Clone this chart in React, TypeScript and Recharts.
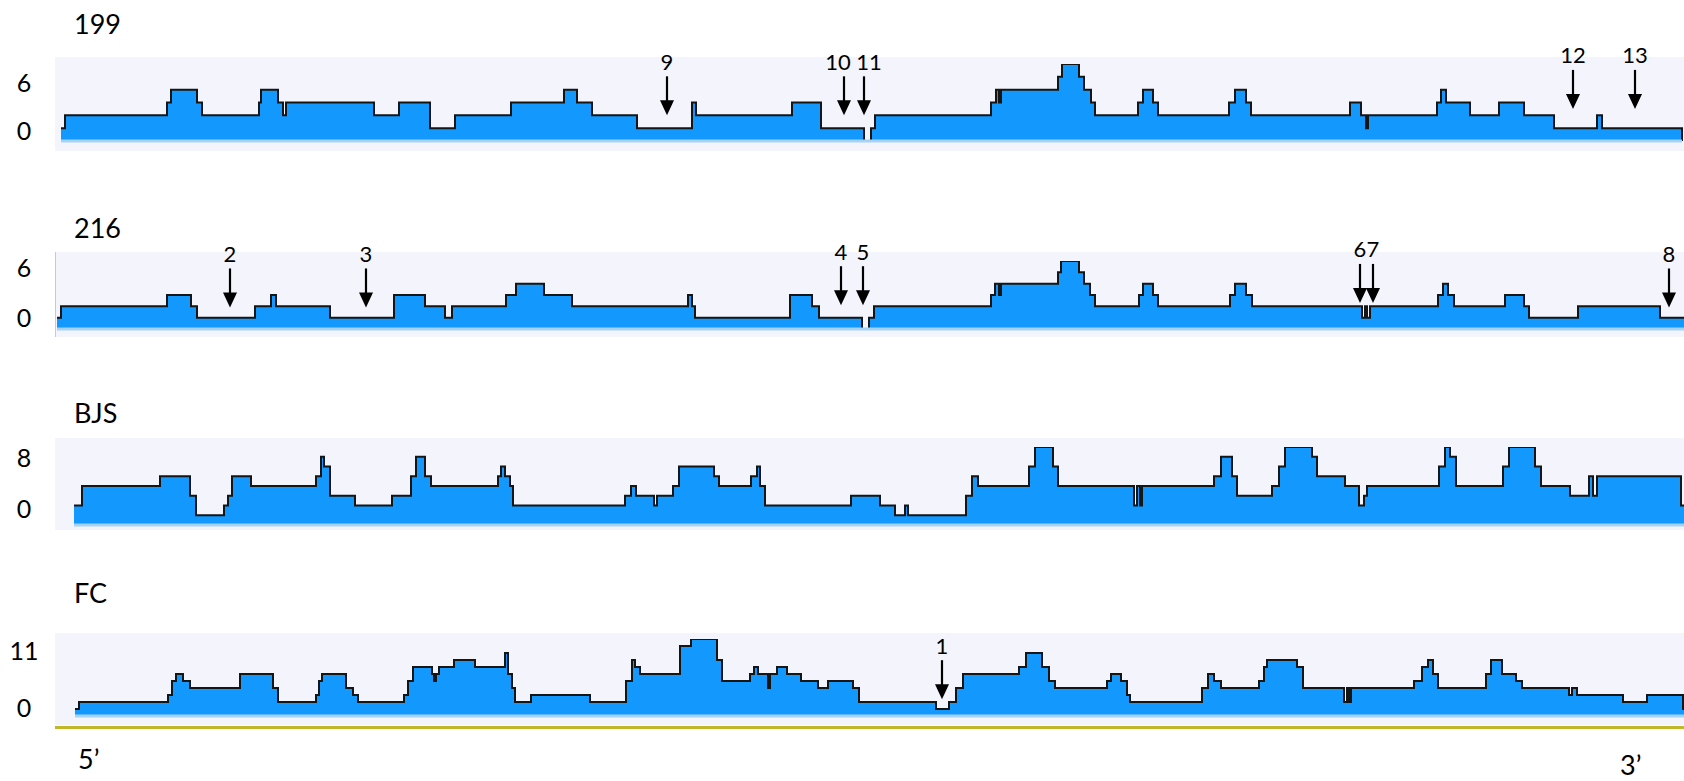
import React from 'react'
import { AreaChart, Area, XAxis, YAxis, ReferenceDot, ReferenceLine } from 'recharts'

type Step = [number, number]
type Mark = { label: string; pos: number; tip: number; dx?: number }

const POS_MAX = 1629

// coverage depth along the segment, as [position, depth] step starts
const DEPTH_199: Step[] = [
  [6, 1], [10, 2], [112, 3], [116, 4], [142, 3], [147, 2], [204, 3], [206, 4], [223, 3], [228, 2],
  [231, 3], [319, 2], [344, 3], [375, 1], [400, 2], [456, 3], [509, 4], [522, 3], [537, 2], [582, 1],
  [637, 3], [641, 2], [737, 3], [766, 1], [809, 0], [816, 1], [820, 2], [936, 3], [941, 4], [944, 3],
  [946, 4], [1003, 5], [1007, 6], [1024, 5], [1029, 4], [1036, 3], [1040, 2], [1083, 3], [1088, 4], [1098, 3],
  [1103, 2], [1174, 3], [1180, 4], [1191, 3], [1196, 2], [1295, 3], [1306, 2], [1311, 1], [1313, 2], [1382, 3],
  [1386, 4], [1391, 3], [1415, 2], [1444, 3], [1469, 2], [1499, 1], [1542, 2], [1547, 1], [1627, 0],
]

const DEPTH_216: Step[] = [
  [2, 1], [6, 2], [112, 3], [136, 2], [142, 1], [200, 2], [216, 3], [221, 2], [275, 1], [339, 3],
  [370, 2], [390, 1], [397, 2], [451, 3], [461, 4], [489, 3], [517, 2], [633, 3], [637, 2], [640, 1],
  [735, 3], [757, 2], [764, 1], [807, 0], [814, 1], [819, 2], [936, 3], [940, 4], [944, 3], [946, 4],
  [1003, 5], [1006, 6], [1024, 5], [1029, 4], [1035, 3], [1040, 2], [1084, 3], [1088, 4], [1098, 3], [1103, 2],
  [1175, 3], [1180, 4], [1191, 3], [1197, 2], [1307, 1], [1310, 2], [1312, 1], [1315, 2], [1383, 3], [1388, 4],
  [1393, 3], [1399, 2], [1450, 3], [1469, 2], [1474, 1], [1523, 2], [1605, 1], [1629, 1],
]

const DEPTH_BJS: Step[] = [
  [19, 2], [27, 4], [105, 5], [135, 3], [141, 1], [169, 2], [173, 3], [177, 5], [196, 4], [261, 5],
  [266, 7], [269, 6], [275, 3], [300, 2], [337, 3], [356, 5], [361, 7], [370, 5], [376, 4], [443, 5],
  [446, 6], [450, 5], [455, 4], [458, 2], [570, 3], [576, 4], [581, 3], [599, 2], [602, 3], [618, 4],
  [624, 6], [659, 5], [664, 4], [696, 5], [702, 6], [705, 4], [710, 2], [796, 3], [825, 2], [840, 1],
  [850, 2], [853, 1], [911, 3], [917, 5], [923, 4], [974, 6], [980, 8], [998, 6], [1003, 4], [1079, 2],
  [1082, 4], [1085, 2], [1087, 4], [1159, 5], [1166, 7], [1177, 5], [1182, 3], [1217, 4], [1224, 6], [1230, 8],
  [1257, 7], [1262, 5], [1290, 4], [1304, 2], [1309, 3], [1312, 4], [1384, 6], [1390, 8], [1395, 7], [1401, 4],
  [1448, 6], [1454, 8], [1480, 6], [1486, 4], [1515, 3], [1534, 5], [1538, 3], [1542, 5], [1626, 2], [1629, 2],
]

const DEPTH_FC: Step[] = [
  [20, 1], [24, 2], [113, 3], [117, 5], [121, 6], [128, 5], [135, 4], [185, 6], [218, 4], [223, 2],
  [261, 3], [264, 5], [267, 6], [291, 4], [298, 3], [303, 2], [349, 3], [353, 5], [358, 7], [377, 6],
  [379, 5], [381, 6], [384, 7], [399, 8], [420, 7], [450, 9], [453, 6], [457, 4], [460, 2], [476, 3],
  [535, 2], [571, 5], [577, 8], [580, 7], [585, 6], [625, 10], [636, 11], [662, 8], [667, 5], [695, 6],
  [699, 7], [703, 6], [713, 4], [715, 6], [722, 7], [732, 6], [746, 5], [763, 4], [773, 5], [798, 4],
  [804, 2], [881, 1], [894, 2], [901, 4], [908, 6], [964, 7], [971, 9], [987, 7], [994, 5], [1000, 4],
  [1052, 5], [1056, 6], [1066, 5], [1072, 3], [1075, 2], [1147, 4], [1153, 6], [1159, 5], [1166, 4], [1204, 5],
  [1209, 7], [1212, 8], [1242, 7], [1248, 4], [1289, 2], [1292, 4], [1294, 2], [1296, 4], [1359, 5], [1367, 7],
  [1373, 8], [1378, 6], [1383, 4], [1431, 6], [1436, 8], [1447, 6], [1461, 5], [1467, 4], [1514, 3], [1517, 4],
  [1522, 3], [1568, 2], [1592, 3], [1628, 1], [1629, 1],
]

// numbered sites, tip = depth the arrow points down to
const MARKS_199: Mark[] = [
  { label: '9', pos: 612, tip: 2 },
  { label: '10', pos: 789, tip: 2, dx: -6 },
  { label: '11', pos: 809, tip: 2, dx: 5 },
  { label: '12', pos: 1518, tip: 2.5 },
  { label: '13', pos: 1580, tip: 2.5 },
]
const MARKS_216: Mark[] = [
  { label: '2', pos: 175, tip: 1.9 },
  { label: '3', pos: 311, tip: 1.9 },
  { label: '4', pos: 786, tip: 2.1 },
  { label: '5', pos: 808, tip: 2.1 },
  { label: '6', pos: 1305, tip: 2.3 },
  { label: '7', pos: 1318, tip: 2.3 },
  { label: '8', pos: 1614, tip: 1.9 },
]
const MARKS_BJS: Mark[] = []
const MARKS_FC: Mark[] = [{ label: '1', pos: 887, tip: 2.4 }]

const FONT = 'Lato, "Open Sans", sans-serif'
const FILL = '#1399fe'
const PANEL_BG = '#f4f4fc'
const LEFT = 55

const PANELS = [
  { name: '199', steps: DEPTH_199, marks: MARKS_199, max: 6, bgTop: 57, bgBottom: 151, plotTop: 64, baseline: 141, titleY: 23, ticks: [['6', 82], ['0', 130]], axisLine: false },
  { name: '216', steps: DEPTH_216, marks: MARKS_216, max: 6, bgTop: 252, bgBottom: 337, plotTop: 261, baseline: 329, titleY: 227, ticks: [['6', 267], ['0', 317]], axisLine: true },
  { name: 'BJS', steps: DEPTH_BJS, marks: MARKS_BJS, max: 8, bgTop: 438, bgBottom: 530, plotTop: 447, baseline: 525, titleY: 412, ticks: [['8', 457], ['0', 508]], axisLine: false },
  { name: 'FC', steps: DEPTH_FC, marks: MARKS_FC, max: 11, bgTop: 633, bgBottom: 725, plotTop: 639, baseline: 716, titleY: 592, ticks: [['11', 650], ['0', 707]], axisLine: false },
]

const arrowShape = (m: Mark) => (p: any) => {
  const { cx, cy } = p
  return (
    <g>
      <text x={cx + (m.dx ?? 0)} y={cy - 54} textAnchor="middle" dominantBaseline="central" fontSize={22} fontFamily={FONT} fill="#000">
        {m.label}
      </text>
      <line x1={cx} y1={cy - 39} x2={cx} y2={cy - 13} stroke="#000" strokeWidth={2.2} />
      <polygon points={`${cx - 7},${cy - 15} ${cx + 7},${cy - 15} ${cx},${cy}`} fill="#000" />
    </g>
  )
}

const Label = ({ text, x, y, size, align = 'left' }: { text: string; x: number; y: number; size: number; align?: 'left' | 'center' }) => (
  <div
    style={{
      position: 'absolute',
      left: align === 'center' ? x - 30 : x,
      width: align === 'center' ? 60 : undefined,
      textAlign: align,
      top: y,
      transform: 'translateY(-50%)',
      fontSize: size,
      lineHeight: 1,
      fontFamily: FONT,
      color: '#000',
      whiteSpace: 'nowrap',
    }}
  >
    {text}
  </div>
)

const Panel = ({ cfg }: { cfg: (typeof PANELS)[number] }) => {
  const svgTop = cfg.bgTop - 22
  const height = cfg.bgBottom - svgTop
  const data = cfg.steps.map(([pos, depth]) => ({ pos, depth }))
  const first = cfg.steps[0][0]
  const last = cfg.steps[cfg.steps.length - 1][0]
  return (
    <>
      <Label text={cfg.name} x={74} y={cfg.titleY} size={27} />
      {cfg.ticks.map(([t, y]) => (
        <Label key={t as string} text={t as string} x={24} y={y as number} size={25} align="center" />
      ))}
      <div
        style={{
          position: 'absolute',
          left: LEFT,
          top: cfg.bgTop,
          width: 1684 - LEFT,
          height: cfg.bgBottom - cfg.bgTop,
          background: PANEL_BG,
          borderLeft: cfg.axisLine ? '1px solid #c9c9cf' : 'none',
          boxSizing: 'border-box',
        }}
      />
      <div style={{ position: 'absolute', left: LEFT, top: svgTop }}>
        <AreaChart
          width={1684 - LEFT}
          height={height}
          data={data}
          margin={{ top: cfg.plotTop - svgTop, right: 0, bottom: cfg.bgBottom - cfg.baseline, left: 0 }}
          style={{ overflow: 'visible' }}
        >
          <XAxis type="number" dataKey="pos" domain={[0, POS_MAX]} hide />
          <YAxis type="number" domain={[0, cfg.max]} hide allowDataOverflow />
          <ReferenceLine
            segment={[{ x: first, y: 0 }, { x: last, y: 0 }]}
            stroke="#a6d2f7"
            strokeWidth={3}
            ifOverflow="visible"
          />
          <Area
            type="stepAfter"
            dataKey="depth"
            stroke="#151515"
            strokeWidth={2}
            fill={FILL}
            fillOpacity={1}
            dot={false}
            activeDot={false}
            isAnimationActive={false}
          />
          {cfg.marks.map((m) => (
            <ReferenceDot key={m.label} x={m.pos} y={m.tip} r={0} ifOverflow="visible" shape={arrowShape(m)} />
          ))}
        </AreaChart>
      </div>
    </>
  )
}

export default function App() {
  return (
    <div style={{ position: 'absolute', left: 0, top: 0, width: 1684, height: 781, background: '#fff', overflow: 'hidden' }}>
      {PANELS.map((cfg) => (
        <Panel key={cfg.name} cfg={cfg} />
      ))}
      <div style={{ position: 'absolute', left: LEFT, top: 726, width: 1684 - LEFT, height: 3, background: '#c2b72a' }} />
      <Label text="5’" x={78} y={758} size={27} />
      <Label text="3’" x={1620} y={764} size={27} />
    </div>
  )
}
